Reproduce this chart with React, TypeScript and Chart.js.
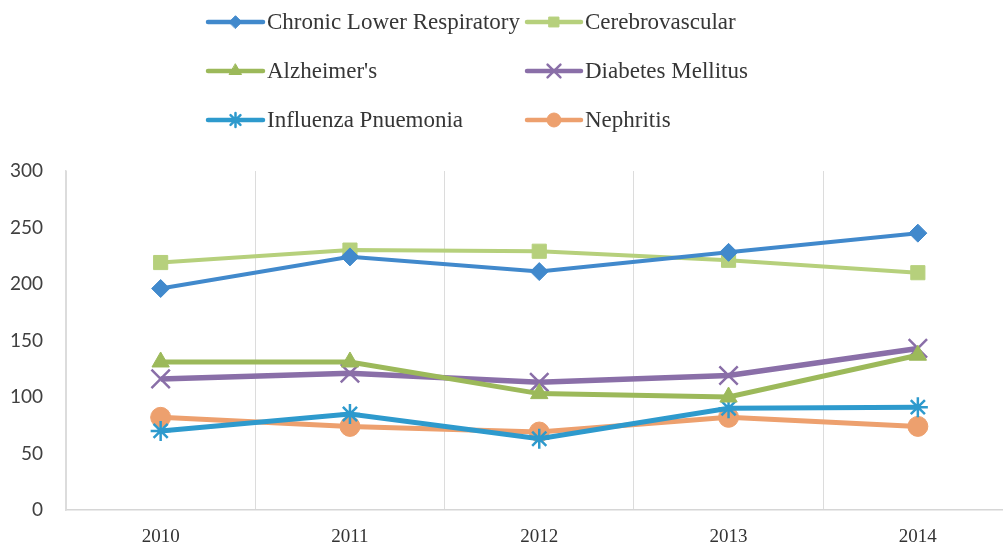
import React, { useEffect, useRef } from "react";
import { Chart, registerables } from "chart.js";
import { drawPoint } from "chart.js/helpers";

Chart.register(...registerables);

const years = ["2010", "2011", "2012", "2013", "2014"];
const chronicLowerRespiratory = [196, 224, 211, 228, 245];
const cerebrovascular = [219, 230, 229, 221, 210];
const alzheimers = [131, 131, 103, 100, 137];
const diabetesMellitus = [116, 121, 113, 119, 143];
const influenzaPneumonia = [70, 85, 63, 90, 91];
const nephritis = [82, 74, 69, 82, 74];
const yTicks = [0, 50, 100, 150, 200, 250, 300];

const seriesNames = [
  "Chronic Lower Respiratory",
  "Cerebrovascular",
  "Alzheimer's",
  "Diabetes Mellitus",
  "Influenza Pnuemonia",
  "Nephritis",
];

const legendPlugin = {
  id: "customLegend",
  afterDraw(chart: any) {
    const ctx = chart.ctx;
    const cols = [
      { lineStart: 208, lineEnd: 263, text: 267 },
      { lineStart: 527, lineEnd: 581, text: 585 },
    ];
    const rows = [22, 71, 120];
    ctx.save();
    chart.data.datasets.forEach((ds: any, i: number) => {
      const c = cols[i % 2];
      const y = rows[Math.floor(i / 2)];
      ctx.strokeStyle = ds.borderColor;
      ctx.lineWidth = 4.5;
      ctx.lineCap = "round";
      ctx.beginPath();
      ctx.moveTo(c.lineStart, y);
      ctx.lineTo(c.lineEnd, y);
      ctx.stroke();
      ctx.fillStyle = ds.pointBackgroundColor;
      ctx.strokeStyle = ds.pointBorderColor;
      ctx.lineWidth = ds.pointBorderWidth;
      drawPoint(ctx, { pointStyle: ds.pointStyle, rotation: 0, borderWidth: ds.pointBorderWidth, radius: ds.pointRadius * 0.7 }, (c.lineStart + c.lineEnd) / 2, y);
      ctx.fillStyle = "#363636";
      ctx.font = '23px "Liberation Serif"';
      ctx.textBaseline = "middle";
      ctx.textAlign = "left";
      ctx.fillText(ds.label, c.text, y + 1);
    });
    ctx.restore();
  },
};

function mk(label: string, data: number[], color: string, style: string, radius: number, width: number, pbw: number) {
  return {
    label,
    data,
    borderColor: color,
    backgroundColor: color,
    pointBackgroundColor: color,
    pointBorderColor: color,
    pointStyle: style,
    pointRadius: radius,
    pointHoverRadius: radius,
    pointBorderWidth: pbw,
    borderWidth: width,
    tension: 0,
    fill: false,
  };
}

export default function App() {
  const ref = useRef<HTMLCanvasElement>(null);
  useEffect(() => {
    if (!ref.current) return;
    const chart = new Chart(ref.current, {
      type: "line",
      data: {
        labels: years,
        datasets: [
          mk(seriesNames[0], chronicLowerRespiratory, "#4189cc", "rectRot", 9, 4, 1),
          mk(seriesNames[1], cerebrovascular, "#b6d07c", "rect", 10, 4, 1),
          mk(seriesNames[2], alzheimers, "#9cb95a", "triangle", 10, 5, 1),
          mk(seriesNames[3], diabetesMellitus, "#8a6fa8", "crossRot", 13, 5.5, 2.5),
          mk(seriesNames[4], influenzaPneumonia, "#2e9acd", "star", 10, 5, 2.5),
          mk(seriesNames[5], nephritis, "#eda06e", "circle", 10, 5, 1),
        ],
      },
      options: {
        animation: false,
        responsive: false,
        devicePixelRatio: 1,
        layout: { padding: { top: 171, right: 4, left: 0, bottom: 0 } },
        plugins: { legend: { display: false }, tooltip: { enabled: false } },
        scales: {
          x: {
            offset: true,
            grid: { display: true, offset: true, color: "#dcdcdc", lineWidth: 1, drawTicks: false },
            border: { display: true, color: "#d6d6d6", width: 1.5 },
            ticks: { color: "#333", font: { family: "Liberation Serif", size: 19 }, padding: 16 },
            afterFit: (s: any) => { s.height = 38; },
          },
          y: {
            min: 0,
            max: 300,
            afterBuildTicks: (s: any) => { s.ticks = yTicks.map((v) => ({ value: v })); },
            grid: { display: false, drawTicks: false },
            border: { display: true, color: "#dcdcdc", width: 1.5 },
            ticks: { color: "#404040", font: { family: "Lato", size: 19 }, padding: 23 },
            afterFit: (s: any) => { s.width = 66; },
          },
        },
      },
      plugins: [legendPlugin],
    } as any);
    return () => chart.destroy();
  }, []);
  return (
    <div style={{ position: "fixed", left: 0, top: 0, width: 1003, height: 548, overflow: "hidden", background: "#fff" }}>
      <canvas ref={ref} width={1028} height={548} style={{ width: 1028, height: 548, display: "block" }} />
    </div>
  );
}
